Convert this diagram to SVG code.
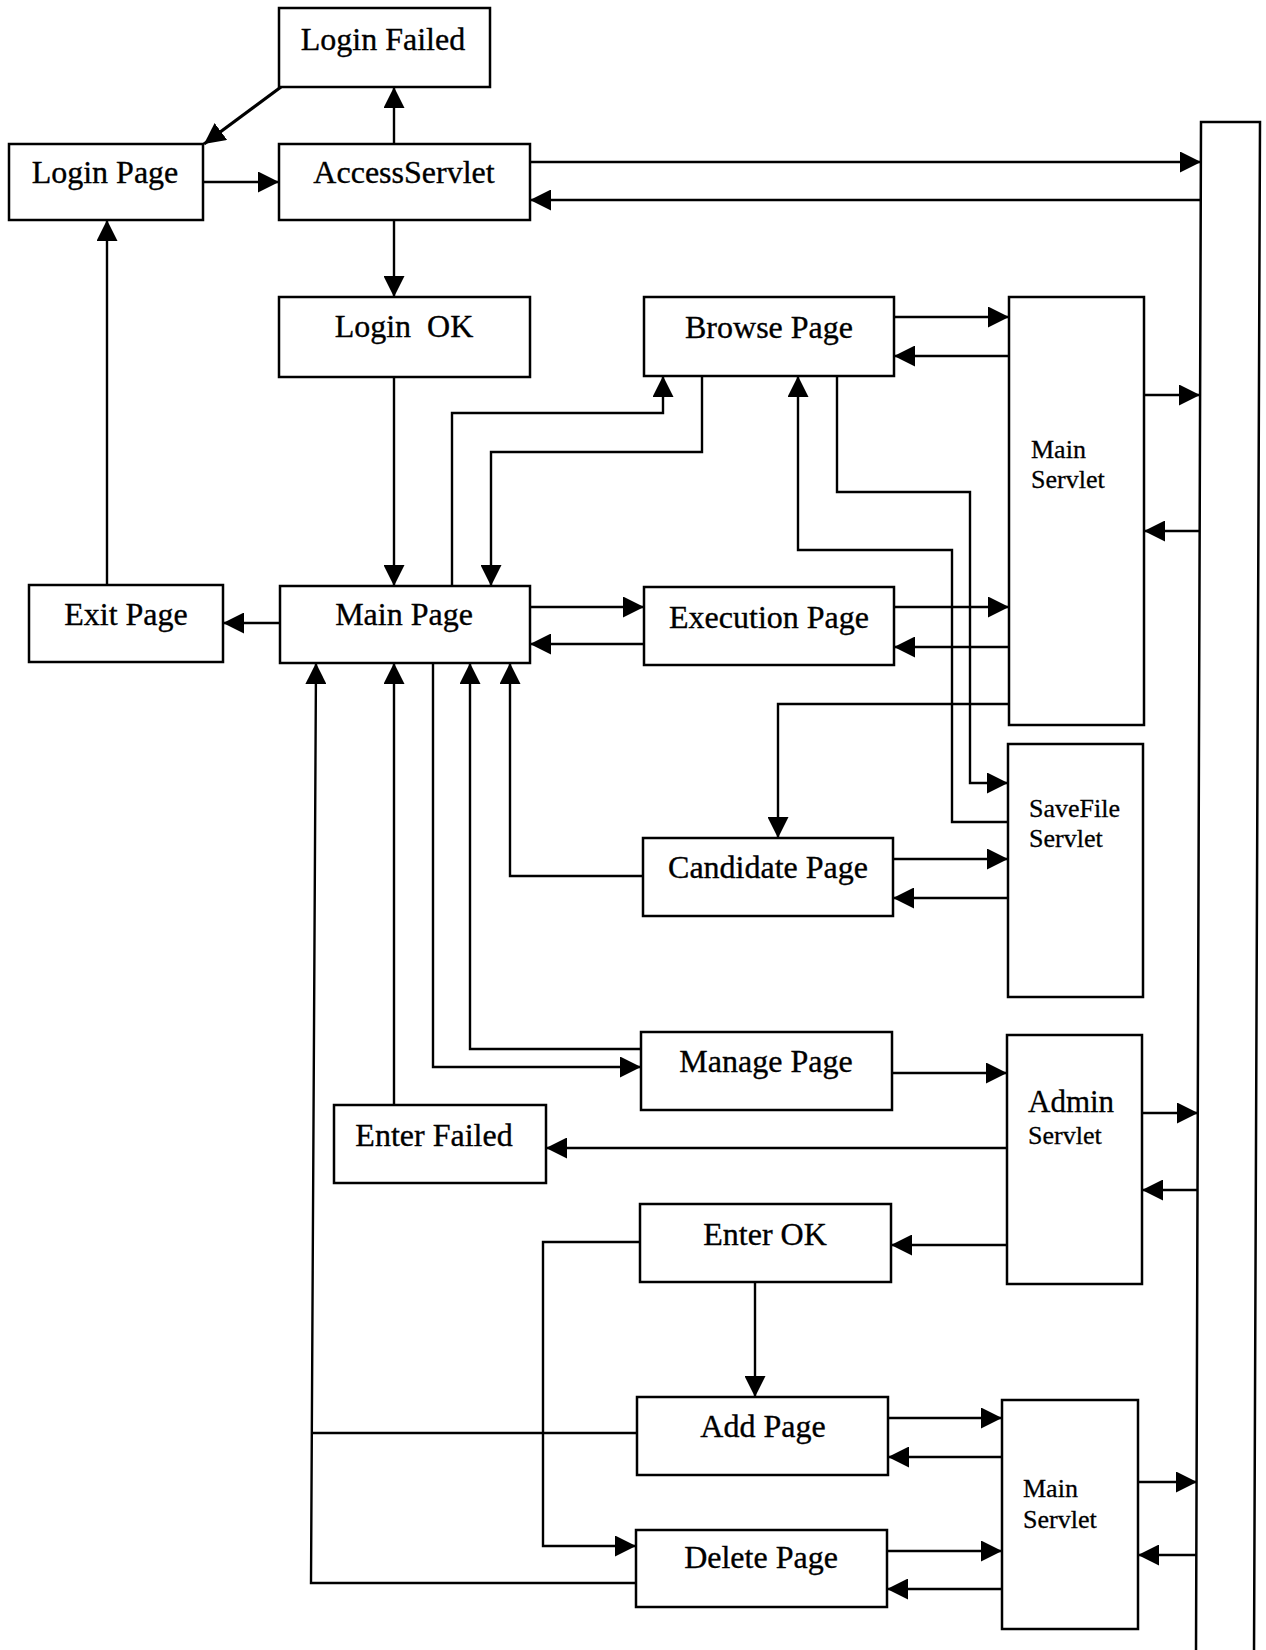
<svg xmlns="http://www.w3.org/2000/svg" width="1266" height="1650" viewBox="0 0 1266 1650">
  <style>
    .box { fill: #fff; stroke: #000; stroke-width: 2.5; }
    .lbl { font-family: "Liberation Serif", "Times New Roman", serif; font-size: 32px; fill: #000; stroke: #000; stroke-width: 0.35; text-anchor: middle; }
    .sm { font-family: "Liberation Serif", "Times New Roman", serif; font-size: 26px; fill: #000; stroke: #000; stroke-width: 0.3; }
    .big { font-size: 31px; }
    .wire { fill: none; stroke: #000; stroke-width: 2.4; }
    .arr { marker-end: url(#head); }
  </style>
  <defs>
    <marker id="head" markerUnits="userSpaceOnUse" markerWidth="21" markerHeight="21" refX="21" refY="10.5" orient="auto">
      <path d="M0,0 L21,10.5 L0,21 z" fill="#000"/>
    </marker>
  </defs>
  <rect width="1266" height="1650" fill="#fff"/>

  <!-- page and servlet nodes -->
  <g id="login-failed"><rect class="box" x="279" y="8" width="211" height="79"/><text class="lbl" x="383" y="50">Login Failed</text></g>
  <g id="login-page"><rect class="box" x="9" y="144" width="194" height="76"/><text class="lbl" x="105" y="183">Login Page</text></g>
  <g id="access-servlet"><rect class="box" x="279" y="144" width="251" height="76"/><text class="lbl" x="404" y="183">AccessServlet</text></g>
  <g id="login-ok"><rect class="box" x="279" y="297" width="251" height="80"/><text class="lbl" x="404" y="337" xml:space="preserve">Login  OK</text></g>
  <g id="browse-page"><rect class="box" x="644" y="297" width="250" height="79"/><text class="lbl" x="769" y="338">Browse Page</text></g>
  <g id="main-servlet-1"><rect class="box" x="1009" y="297" width="135" height="428"/><text class="sm" x="1031" y="458">Main</text><text class="sm" x="1031" y="488">Servlet</text></g>
  <g id="exit-page"><rect class="box" x="29" y="585" width="194" height="77"/><text class="lbl" x="126" y="625">Exit Page</text></g>
  <g id="main-page"><rect class="box" x="280" y="586" width="250" height="77"/><text class="lbl" x="404" y="625">Main Page</text></g>
  <g id="execution-page"><rect class="box" x="644" y="587" width="250" height="78"/><text class="lbl" x="769" y="628">Execution Page</text></g>
  <g id="savefile-servlet"><rect class="box" x="1008" y="744" width="135" height="253"/><text class="sm" x="1029" y="817">SaveFile</text><text class="sm" x="1029" y="847">Servlet</text></g>
  <g id="candidate-page"><rect class="box" x="643" y="838" width="250" height="78"/><text class="lbl" x="768" y="878">Candidate Page</text></g>
  <g id="manage-page"><rect class="box" x="641" y="1032" width="251" height="78"/><text class="lbl" x="766" y="1072">Manage Page</text></g>
  <g id="admin-servlet"><rect class="box" x="1007" y="1035" width="135" height="249"/><text class="sm big" x="1028" y="1112">Admin</text><text class="sm" x="1028" y="1144">Servlet</text></g>
  <g id="enter-failed"><rect class="box" x="334" y="1105" width="212" height="78"/><text class="lbl" x="434" y="1146">Enter Failed</text></g>
  <g id="enter-ok"><rect class="box" x="640" y="1204" width="251" height="78"/><text class="lbl" x="765" y="1245">Enter OK</text></g>
  <g id="add-page"><rect class="box" x="637" y="1397" width="251" height="78"/><text class="lbl" x="763" y="1437">Add Page</text></g>
  <g id="delete-page"><rect class="box" x="636" y="1530" width="251" height="77"/><text class="lbl" x="761" y="1568">Delete Page</text></g>
  <g id="main-servlet-2"><rect class="box" x="1002" y="1400" width="136" height="229"/><text class="sm" x="1023" y="1497">Main</text><text class="sm" x="1023" y="1528">Servlet</text></g>
  <g id="side-bar"><polygon class="box" points="1201,122 1260,122 1254,1656 1196,1656"/></g>

  <!-- connectors -->
  <g id="connectors">
    <path class="wire arr" d="M203,182 H279"/>
    <path class="wire arr" d="M394,144 V87"/>
    <path class="wire arr" d="M281,87 L204,144" style="stroke-width:3.2"/>
    <path class="wire arr" d="M394,220 V297"/>
    <path class="wire arr" d="M530,162 H1201"/>
    <path class="wire arr" d="M1201,200 H530"/>
    <path class="wire arr" d="M394,377 V586"/>
    <path class="wire arr" d="M107,585 V220"/>
    <path class="wire arr" d="M280,623 H223"/>
    <path class="wire arr" d="M452,586 V413 H663 V376"/>
    <path class="wire arr" d="M702,376 V452 H491 V586"/>
    <path class="wire arr" d="M894,317 H1009"/>
    <path class="wire arr" d="M1009,356 H894"/>
    <path class="wire arr" d="M1144,395 H1200"/>
    <path class="wire arr" d="M1200,531 H1144"/>
    <path class="wire arr" d="M530,607 H644"/>
    <path class="wire arr" d="M644,644 H530"/>
    <path class="wire arr" d="M894,607 H1009"/>
    <path class="wire arr" d="M1009,647 H894"/>
    <path class="wire arr" d="M1009,704 H778 V838"/>
    <path class="wire arr" d="M837,376 V492 H970 V783 H1008"/>
    <path class="wire arr" d="M1008,822 H952 V550 H798 V376"/>
    <path class="wire arr" d="M643,876 H510 V663"/>
    <path class="wire arr" d="M893,859 H1008"/>
    <path class="wire arr" d="M1008,898 H893"/>
    <path class="wire arr" d="M433,663 V1067 H641"/>
    <path class="wire arr" d="M641,1049 H470 V663"/>
    <path class="wire arr" d="M892,1073 H1007"/>
    <path class="wire arr" d="M1007,1148 H546"/>
    <path class="wire arr" d="M394,1105 V663"/>
    <path class="wire arr" d="M1007,1245 H891"/>
    <path class="wire arr" d="M1142,1113 H1198"/>
    <path class="wire arr" d="M1198,1190 H1142"/>
    <path class="wire arr" d="M755,1282 V1397"/>
    <path class="wire arr" d="M640,1242 H543 V1546 H636"/>
    <path class="wire" d="M637,1433 H313"/>
    <path class="wire arr" d="M636,1583 H311 L316,663"/>
    <path class="wire arr" d="M888,1418 H1002"/>
    <path class="wire arr" d="M1002,1457 H888"/>
    <path class="wire arr" d="M887,1551 H1002"/>
    <path class="wire arr" d="M1002,1589 H887"/>
    <path class="wire arr" d="M1138,1482 H1197"/>
    <path class="wire arr" d="M1197,1555 H1138"/>
  </g>
</svg>
